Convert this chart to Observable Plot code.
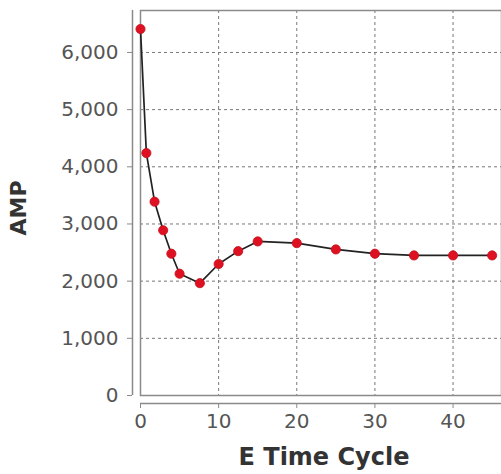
<!DOCTYPE html>
<html><head><meta charset="utf-8">
<script src="https://cdn.jsdelivr.net/npm/d3@7"></script>
<script src="https://cdn.jsdelivr.net/npm/@observablehq/plot@0.6"></script>
<style>
html,body{margin:0;padding:0;background:#fff;}
</style>
</head><body>
<div id="chart"></div>
<script>
const cycles = [0, 0.75, 1.8, 2.9, 3.95, 5, 7.6, 10, 12.5, 15, 20, 25, 30, 35, 40, 45];
const amp = [6410, 4240, 3390, 2890, 2480, 2130, 1965, 2300, 2525, 2695, 2665, 2555, 2480, 2450, 2450, 2450];
const xTicks = [0, 10, 20, 30, 40];
const yTicks = [0, 1000, 2000, 3000, 4000, 5000, 6000];
const xLabel = "E Time Cycle";
const yLabel = "AMP";

const data = cycles.map((c, i) => ({cycle: c, amp: amp[i]}));
const fmt = d3.format(",");

const chart = Plot.plot({
  width: 501,
  height: 474,
  marginLeft: 140,
  marginRight: 0,
  marginTop: 10,
  marginBottom: 79,
  style: {fontFamily: "DejaVu Sans, sans-serif", fontSize: "20px", background: "#fff", color: "#555"},
  x: {domain: [0, 46.2], ticks: xTicks, label: null},
  y: {domain: [0, 6734], ticks: yTicks, label: null},
  marks: [
    Plot.gridX(xTicks, {stroke: "#777", strokeOpacity: 1, strokeWidth: 1, strokeDasharray: "3,3"}),
    Plot.gridY(yTicks, {stroke: "#777", strokeOpacity: 1, strokeWidth: 1, strokeDasharray: "3,3"}),
    Plot.frame({stroke: "#8a8a8a", strokeWidth: 1.5}),
    Plot.ruleX([0], {dx: -8, stroke: "#8a8a8a", strokeWidth: 1.5}),
    Plot.ruleY([0], {dy: 8, stroke: "#8a8a8a", strokeWidth: 1.5}),
    Plot.axisX(xTicks, {dy: 8, tickSize: 5, tickPadding: 5, stroke: "#8a8a8a", fill: "#555", fontSize: 20, label: null, style: {letterSpacing: "2px"}}),
    Plot.axisY(yTicks, {dx: -8, tickSize: 5, tickPadding: 9, stroke: "#8a8a8a", fill: "#555", fontSize: 20, tickFormat: fmt, label: null, style: {letterSpacing: "2px"}}),
    Plot.line(data, {x: "cycle", y: "amp", stroke: "#222", strokeWidth: 1.7}),
    Plot.dot(data, {x: "cycle", y: "amp", r: 4.6, fill: "#dd1122", stroke: "#c8101c", strokeWidth: 0.8}),
    Plot.text([yLabel], {frameAnchor: "left", dx: -122, dy: 5, rotate: -90, fontSize: 22, fontWeight: "bold", fill: "#333", textAnchor: "middle", lineAnchor: "middle"}),
    Plot.text([xLabel], {frameAnchor: "bottom", dx: 3, dy: 62, fontSize: 24, fontWeight: "bold", fill: "#333", textAnchor: "middle", lineAnchor: "middle", style: {letterSpacing: "1px"}})
  ]
});
document.getElementById("chart").appendChild(chart);
</script>
</body></html>
